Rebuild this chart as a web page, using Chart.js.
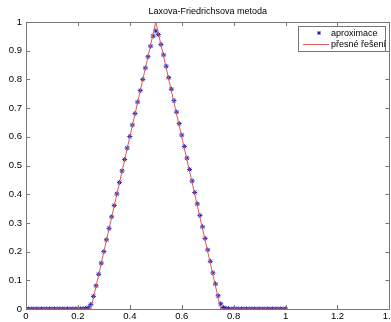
<!DOCTYPE html>
<html>
<head>
<meta charset="utf-8">
<script src="https://cdn.jsdelivr.net/npm/chart.js@4/dist/chart.umd.min.js"></script>
<style>
  html, body { margin: 0; padding: 0; background: #fff; overflow: hidden; }
  #wrap { width: 398px; height: 322px; }
</style>
</head>
<body>
<div id="wrap"><canvas id="chart" width="398" height="322"></canvas></div>
<script>
// Grid points (x) of the numerical solution
const gridX = [
  0.00, 0.01, 0.02, 0.03, 0.04, 0.05, 0.06, 0.07, 0.08, 0.09,
  0.10, 0.11, 0.12, 0.13, 0.14, 0.15, 0.16, 0.17, 0.18, 0.19,
  0.20, 0.21, 0.22, 0.23, 0.24, 0.25, 0.26, 0.27, 0.28, 0.29,
  0.30, 0.31, 0.32, 0.33, 0.34, 0.35, 0.36, 0.37, 0.38, 0.39,
  0.40, 0.41, 0.42, 0.43, 0.44, 0.45, 0.46, 0.47, 0.48, 0.49,
  0.50, 0.51, 0.52, 0.53, 0.54, 0.55, 0.56, 0.57, 0.58, 0.59,
  0.60, 0.61, 0.62, 0.63, 0.64, 0.65, 0.66, 0.67, 0.68, 0.69,
  0.70, 0.71, 0.72, 0.73, 0.74, 0.75, 0.76, 0.77, 0.78, 0.79,
  0.80, 0.81, 0.82, 0.83, 0.84, 0.85, 0.86, 0.87, 0.88, 0.89,
  0.90, 0.91, 0.92, 0.93, 0.94, 0.95, 0.96, 0.97, 0.98, 0.99,
  1.00
];

// Lax-Friedrichs approximation
const aproximace = [
  0, 0, 0, 0, 0, 0, 0, 0, 0, 0,
  0, 0, 0, 0, 0, 0, 0, 0, 0, 0,
  0, 0, 0.001, 0.002, 0.004, 0.016, 0.044, 0.081, 0.121, 0.160,
  0.200, 0.241, 0.281, 0.321, 0.361, 0.401, 0.441, 0.481, 0.521, 0.561,
  0.601, 0.641, 0.681, 0.721, 0.761, 0.800, 0.840, 0.879, 0.916, 0.951,
  0.969, 0.956, 0.922, 0.885, 0.846, 0.806, 0.766, 0.726, 0.686, 0.646,
  0.606, 0.566, 0.526, 0.486, 0.446, 0.406, 0.366, 0.326, 0.286, 0.246,
  0.206, 0.166, 0.126, 0.087, 0.046, 0.018, 0.005, 0.002, 0.001, 0,
  0, 0, 0, 0, 0, 0, 0, 0, 0, 0,
  0, 0, 0, 0, 0, 0, 0, 0, 0, 0,
  0
];

// Exact solution (triangle)
const exactX = [0, 0.25, 0.5, 0.75, 1];
const exactY = [0, 0, 1, 0, 0];

const xTicks = [0, 0.2, 0.4, 0.6, 0.8, 1, 1.2, 1.4];
const yTicks = [0, 0.1, 0.2, 0.3, 0.4, 0.5, 0.6, 0.7, 0.8, 0.9, 1];

const titleText = 'Laxova-Friedrichsova metoda';
const legendLabels = ['aproximace', 'přesné řešení'];

const FONT = '"Liberation Sans", Arial, sans-serif';
const BLUE = 'rgb(30,30,190)';
const RED = 'rgb(220,90,90)';
const AXIS = '#777';

// Box, inward ticks on all sides, title and legend like MATLAB
const matlabAxes = {
  id: 'matlabAxes',
  afterDraw(chart) {
    const ctx = chart.ctx;
    const a = chart.chartArea;
    const xs = chart.scales.x, ys = chart.scales.y;
    ctx.save();
    ctx.strokeStyle = AXIS;
    ctx.lineWidth = 1;
    ctx.beginPath();
    ctx.rect(Math.round(a.left) + 0.5, Math.round(a.top) + 0.5,
      Math.round(a.right - a.left), Math.round(a.bottom - a.top));
    const tl = 4;
    xTicks.forEach(v => {
      const px = Math.round(xs.getPixelForValue(v)) + 0.5;
      ctx.moveTo(px, a.bottom); ctx.lineTo(px, a.bottom - tl);
      ctx.moveTo(px, a.top); ctx.lineTo(px, a.top + tl);
    });
    yTicks.forEach(v => {
      const py = Math.round(ys.getPixelForValue(v)) + 0.5;
      ctx.moveTo(a.left, py); ctx.lineTo(a.left + tl, py);
      ctx.moveTo(a.right, py); ctx.lineTo(a.right - tl, py);
    });
    ctx.stroke();

    // title
    ctx.fillStyle = '#000';
    ctx.font = '9px ' + FONT;
    ctx.textAlign = 'center';
    ctx.textBaseline = 'middle';
    ctx.fillText(titleText, (a.left + a.right) / 2, 12);

    // legend
    const lx = 298, ly = 26, lw = 87, lh = 25;
    ctx.fillStyle = '#fff';
    ctx.fillRect(lx, ly, lw, lh);
    ctx.strokeStyle = AXIS;
    ctx.strokeRect(lx + 0.5, ly + 0.5, lw, lh);
    // star marker
    ctx.strokeStyle = BLUE;
    const mx = 319, my = 33, r = 2;
    ctx.beginPath();
    ctx.moveTo(mx - r, my); ctx.lineTo(mx + r, my);
    ctx.moveTo(mx, my - r); ctx.lineTo(mx, my + r);
    ctx.moveTo(mx - r * 0.7, my - r * 0.7); ctx.lineTo(mx + r * 0.7, my + r * 0.7);
    ctx.moveTo(mx - r * 0.7, my + r * 0.7); ctx.lineTo(mx + r * 0.7, my - r * 0.7);
    ctx.stroke();
    // line sample
    ctx.strokeStyle = RED;
    ctx.beginPath();
    ctx.moveTo(303, 44.5); ctx.lineTo(329, 44.5);
    ctx.stroke();
    ctx.fillStyle = '#000';
    ctx.textAlign = 'left';
    ctx.fillText(legendLabels[0], 331, 34);
    ctx.fillText(legendLabels[1], 331, 45);
    ctx.restore();
  }
};

const ctx = document.getElementById('chart').getContext('2d');
new Chart(ctx, {
  type: 'scatter',
  data: {
    datasets: [
      {
        label: legendLabels[0],
        data: gridX.map((x, i) => ({ x, y: aproximace[i] })),
        showLine: false,
        pointStyle: 'star',
        pointRadius: 2.5,
        pointBorderColor: BLUE,
        pointBackgroundColor: BLUE,
        pointBorderWidth: 1,
        order: 2
      },
      {
        label: legendLabels[1],
        data: exactX.map((x, i) => ({ x, y: exactY[i] })),
        showLine: true,
        borderColor: RED,
        borderWidth: 1,
        pointRadius: 0,
        order: 1
      }
    ]
  },
  options: {
    responsive: false,
    animation: false,
    layout: { padding: { top: 22, right: 0, left: 0, bottom: 0 } },
    plugins: {
      legend: { display: false },
      title: { display: false },
      tooltip: { enabled: false }
    },
    scales: {
      x: {
        type: 'linear',
        min: 0,
        max: 1.4,
        afterFit: s => { s.height = 13; },
        afterBuildTicks: s => { s.ticks = xTicks.map(v => ({ value: v })); },
        grid: { display: false, drawTicks: false },
        border: { display: false },
        ticks: {
          padding: 2,
          color: '#000',
          font: { family: FONT, size: 9.5 },
          maxRotation: 0,
          callback: v => String(Math.round(v * 10) / 10)
        }
      },
      y: {
        type: 'linear',
        min: 0,
        max: 1,
        afterFit: s => { s.width = 26; },
        afterBuildTicks: s => { s.ticks = yTicks.map(v => ({ value: v })); },
        grid: { display: false, drawTicks: false },
        border: { display: false },
        ticks: {
          padding: 4,
          color: '#000',
          font: { family: FONT, size: 9.5 },
          callback: v => String(Math.round(v * 10) / 10)
        }
      }
    }
  },
  plugins: [matlabAxes]
});
</script>
</body>
</html>
